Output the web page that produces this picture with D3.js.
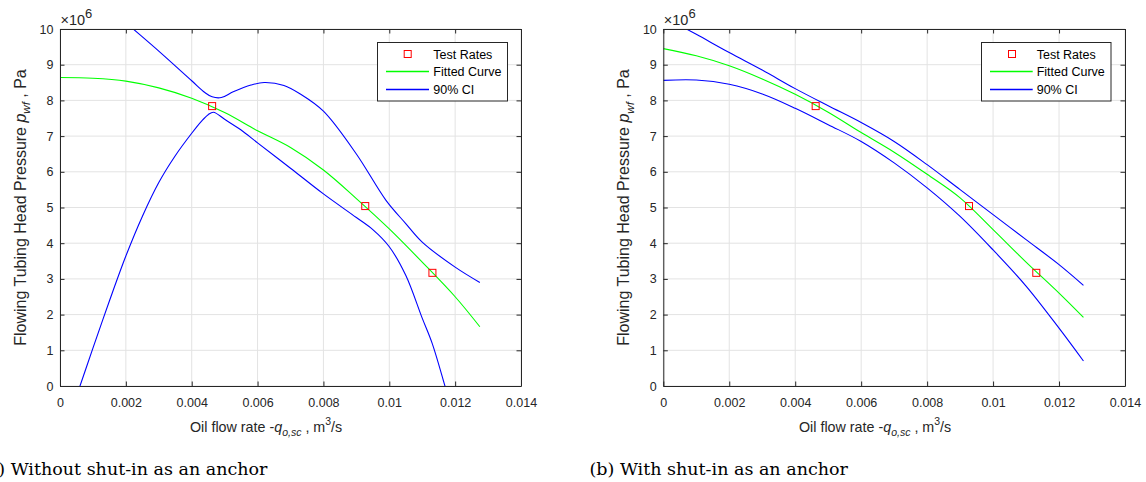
<!DOCTYPE html>
<html>
<head>
<meta charset="utf-8">
<script src="https://cdn.jsdelivr.net/npm/d3@7"></script>
<style>
  html, body { margin: 0; padding: 0; background: #fff; }
  svg { display: block; }
  .tick text { font-family: "Liberation Sans", Arial, sans-serif; font-size: 12.5px; fill: #262626; }
</style>
</head>
<body>
<svg id="chart" width="1146" height="482"></svg>
<script>
// ---------- data ----------
const xTicks = [0, 0.002, 0.004, 0.006, 0.008, 0.010, 0.012, 0.014];
const xTickLabels = ["0", "0.002", "0.004", "0.006", "0.008", "0.01", "0.012", "0.014"];
const yTicks = [0, 1, 2, 3, 4, 5, 6, 7, 8, 9, 10];
const legendLabels = ["Test Rates", "Fitted Curve", "90% CI"];
const captions = ["(a) Without shut-in as an anchor", "(b) With shut-in as an anchor"];

// test rates (same in both panels), pressure in 1e6 Pa
const testQ = [0.00462, 0.00927, 0.01131];
const testP = [7.84, 5.04, 3.17];

// panel (a): without shut-in
const fitQA = [0, 0.001, 0.002, 0.003, 0.004, 0.005, 0.006, 0.007, 0.008, 0.009, 0.010, 0.011, 0.012, 0.01275];
const fitPA = [8.64, 8.62, 8.54, 8.35, 8.06, 7.66, 7.15, 6.68, 6.05, 5.25, 4.40, 3.47, 2.50, 1.66];
const upQA = [0, 0.001, 0.002, 0.003, 0.004, 0.0044, 0.00462, 0.0049, 0.00526, 0.0058, 0.0062, 0.0068, 0.0073, 0.008, 0.009, 0.0099, 0.0105, 0.011, 0.012, 0.01275];
const upPA = [11.8, 11.0, 10.18, 9.38, 8.55, 8.22, 8.10, 8.08, 8.24, 8.43, 8.50, 8.42, 8.18, 7.70, 6.50, 5.20, 4.55, 4.03, 3.33, 2.90];
const loQA = [0.0002, 0.000607, 0.001, 0.0015, 0.002, 0.0025, 0.003, 0.0035, 0.004, 0.0043, 0.0045, 0.00466, 0.005, 0.0055, 0.006, 0.007, 0.008, 0.009, 0.0095, 0.010, 0.0105, 0.011, 0.0113, 0.01169, 0.0118];
const loPA = [-1.1, 0, 1.06, 2.38, 3.64, 4.75, 5.7, 6.45, 7.08, 7.42, 7.6, 7.67, 7.47, 7.17, 6.81, 6.1, 5.38, 4.72, 4.38, 3.9, 3.1, 1.9, 1.2, 0, -0.35];

// panel (b): with shut-in
const fitQB = [0, 0.001, 0.002, 0.003, 0.004, 0.005, 0.006, 0.007, 0.008, 0.009, 0.010, 0.011, 0.012, 0.01274];
const fitPB = [9.45, 9.25, 8.97, 8.60, 8.17, 7.67, 7.10, 6.55, 5.93, 5.27, 4.38, 3.47, 2.60, 1.92];
const upQB = [0, 0.001, 0.002, 0.003, 0.004, 0.005, 0.006, 0.007, 0.008, 0.009, 0.010, 0.011, 0.012, 0.01274];
const upPB = [10.35, 9.85, 9.34, 8.85, 8.33, 7.85, 7.38, 6.85, 6.20, 5.50, 4.80, 4.10, 3.40, 2.82];
const loQB = [0, 0.001, 0.002, 0.003, 0.004, 0.005, 0.006, 0.007, 0.008, 0.009, 0.010, 0.011, 0.012, 0.01274];
const loPB = [8.56, 8.57, 8.45, 8.18, 7.78, 7.32, 6.85, 6.25, 5.55, 4.75, 3.81, 2.80, 1.62, 0.70];

// ---------- drawing ----------
const svg = d3.select("#chart");
const AX = "#262626";
const GRID = "#e3e3e3";
const SANS = '"Liberation Sans", Arial, sans-serif';

const panels = [
  { left: 60, right: 521, top: 29, bottom: 386,
    fit: [fitQA, fitPA], up: [upQA, upPA], lo: [loQA, loPA],
    legend: { x: 377.5, y: 42.5, w: 130, h: 58.5, mx: 407.7, lx1: 386, lx2: 429, tx: 433.3 },
    xlabelX: 190, ylabelX: 25.5, caption: captions[0], capX: -19 },
  { left: 663.3, right: 1125, top: 29, bottom: 386,
    fit: [fitQB, fitPB], up: [upQB, upPB], lo: [loQB, loPB],
    legend: { x: 981.5, y: 42.5, w: 129.5, h: 58.5, mx: 1012, lx1: 990, lx2: 1032.7, tx: 1036.7 },
    xlabelX: 799, ylabelX: 629, caption: captions[1], capX: 589.5 }
];

panels.forEach((p, i) => {
  const x = d3.scaleLinear().domain([0, 0.014]).range([p.left, p.right]);
  const y = d3.scaleLinear().domain([0, 10]).range([p.bottom, p.top]);
  const g = svg.append("g");

  // grid
  g.append("g").selectAll("line").data(xTicks).join("line")
    .attr("x1", d => x(d)).attr("x2", d => x(d))
    .attr("y1", p.top).attr("y2", p.bottom)
    .attr("stroke", GRID).attr("stroke-width", 1);
  g.append("g").selectAll("line").data(yTicks).join("line")
    .attr("x1", p.left).attr("x2", p.right)
    .attr("y1", d => y(d)).attr("y2", d => y(d))
    .attr("stroke", GRID).attr("stroke-width", 1);

  // clip
  const clipId = "clip" + i;
  svg.append("clipPath").attr("id", clipId).append("rect")
    .attr("x", p.left).attr("y", p.top)
    .attr("width", p.right - p.left).attr("height", p.bottom - p.top);

  const plot = g.append("g").attr("clip-path", `url(#${clipId})`);
  const line = d3.line().x(d => x(d[0])).y(d => y(d[1])).curve(d3.curveCatmullRom.alpha(0.5));
  const zip = (a, b) => a.map((v, k) => [v, b[k]]);

  plot.append("path").datum(zip(p.up[0], p.up[1])).attr("d", line)
    .attr("fill", "none").attr("stroke", "#0000ff").attr("stroke-width", 1.1);
  plot.append("path").datum(zip(p.lo[0], p.lo[1])).attr("d", line)
    .attr("fill", "none").attr("stroke", "#0000ff").attr("stroke-width", 1.1);
  plot.append("path").datum(zip(p.fit[0], p.fit[1])).attr("d", line)
    .attr("fill", "none").attr("stroke", "#00ff00").attr("stroke-width", 1.1);

  plot.append("g").selectAll("rect").data(zip(testQ, testP)).join("rect")
    .attr("x", d => x(d[0]) - 3.5).attr("y", d => y(d[1]) - 3.5)
    .attr("width", 7).attr("height", 7)
    .attr("fill", "none").attr("stroke", "#ff0000").attr("stroke-width", 1);

  // axes
  const fmtX = d => xTickLabels[xTicks.indexOf(d)];
  const bottom = g.append("g").attr("transform", `translate(0,${p.bottom})`)
    .call(d3.axisBottom(x).tickValues(xTicks).tickFormat(fmtX).tickSizeInner(-4.5).tickSizeOuter(0).tickPadding(12));
  const top = g.append("g").attr("transform", `translate(0,${p.top})`)
    .call(d3.axisTop(x).tickValues(xTicks).tickFormat("").tickSizeInner(-4.5).tickSizeOuter(0));
  const left = g.append("g").attr("transform", `translate(${p.left},0)`)
    .call(d3.axisLeft(y).tickValues(yTicks).tickFormat(d3.format("d")).tickSizeInner(-4.5).tickSizeOuter(0).tickPadding(6.5));
  const right = g.append("g").attr("transform", `translate(${p.right},0)`)
    .call(d3.axisRight(y).tickValues(yTicks).tickFormat("").tickSizeInner(-4.5).tickSizeOuter(0));
  [bottom, top, left, right].forEach(a => {
    a.select(".domain").attr("stroke", AX).attr("stroke-width", 1);
    a.selectAll(".tick line").attr("stroke", AX).attr("stroke-width", 1);
    a.attr("font-family", null).attr("font-size", null);
  });

  // exponent label
  const ex = g.append("text").attr("x", p.left + 0.5).attr("y", p.top - 4)
    .attr("font-family", SANS).attr("font-size", 14.5).attr("fill", AX);
  ex.append("tspan").text("\u00d710");
  ex.append("tspan").attr("dy", -7).attr("font-size", 13).text("6");

  // x label
  const xl = g.append("text").attr("x", p.xlabelX).attr("y", 431.5)
    .attr("font-family", SANS).attr("font-size", 14.3).attr("fill", AX);
  xl.append("tspan").text("Oil flow rate -");
  xl.append("tspan").attr("font-style", "italic").text("q");
  xl.append("tspan").attr("font-style", "italic").attr("font-size", 10.5).attr("dy", 4).text("o,sc");
  xl.append("tspan").attr("dy", -4).text(" , m");
  xl.append("tspan").attr("font-size", 10.5).attr("dy", -7).text("3");
  xl.append("tspan").attr("dy", 7).text("/s");

  // y label
  const yc = (p.top + p.bottom) / 2;
  const yl = g.append("text").attr("transform", `translate(${p.ylabelX},${yc}) rotate(-90)`)
    .attr("text-anchor", "middle")
    .attr("font-family", SANS).attr("font-size", 16).attr("fill", AX);
  yl.append("tspan").text("Flowing Tubing Head Pressure ");
  yl.append("tspan").attr("font-style", "italic").text("p");
  yl.append("tspan").attr("font-style", "italic").attr("font-size", 11.5).attr("dy", 4.5).text("wf");
  yl.append("tspan").attr("dy", -4.5).text(" , Pa");

  // legend
  const L = p.legend;
  const lg = g.append("g");
  lg.append("rect").attr("x", L.x).attr("y", L.y).attr("width", L.w).attr("height", L.h)
    .attr("fill", "#fff").attr("stroke", AX).attr("stroke-width", 1);
  const rowY = [54, 71.5, 89.5];
  lg.append("rect").attr("x", L.mx - 3.5).attr("y", rowY[0] - 3.5).attr("width", 7).attr("height", 7)
    .attr("fill", "none").attr("stroke", "#ff0000").attr("stroke-width", 1);
  lg.append("line").attr("x1", L.lx1).attr("x2", L.lx2).attr("y1", rowY[1]).attr("y2", rowY[1])
    .attr("stroke", "#00ff00").attr("stroke-width", 1.5);
  lg.append("line").attr("x1", L.lx1).attr("x2", L.lx2).attr("y1", rowY[2]).attr("y2", rowY[2])
    .attr("stroke", "#0000ff").attr("stroke-width", 1.5);
  lg.selectAll("text.lt").data(legendLabels).join("text").attr("class", "lt")
    .attr("x", L.tx).attr("y", (d, k) => rowY[k] + 4.5)
    .attr("font-family", SANS).attr("font-size", 12.5).attr("fill", "#000")
    .text(d => d);

  // caption
  g.append("text").attr("x", p.capX).attr("y", 474.5)
    .attr("font-family", '"DejaVu Serif", serif').attr("font-size", 17.5).attr("fill", "#000")
    .text(p.caption);
});
</script>
</body>
</html>
